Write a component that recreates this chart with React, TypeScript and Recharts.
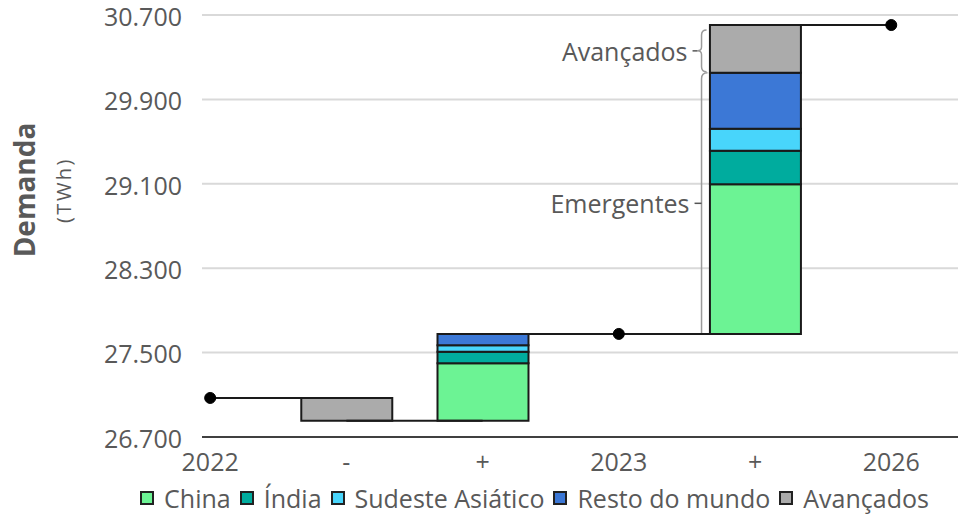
import React from 'react';
import {
  ComposedChart,
  Bar,
  Line,
  XAxis,
  YAxis,
  CartesianGrid,
  ReferenceLine,
  ReferenceArea,
  Legend,
} from 'recharts';

// ---- data ----
const categories = ['2022', '-', '+', '2023', '+', '2026'];
const baseValues: (number | null)[] = [null, 26855, 26855, null, 27677, null];
const china: (number | null)[] = [null, null, 543, null, 1418, null];
const india: (number | null)[] = [null, null, 111, null, 319, null];
const sudeste: (number | null)[] = [null, null, 60, null, 208, null];
const resto: (number | null)[] = [null, null, 108, null, 531, null];
const avancados: (number | null)[] = [null, 215, null, null, 452, null];
const levels: (number | null)[] = [27070, null, null, 27677, null, 30605];
const yTicks = [26700, 27500, 28300, 29100, 29900, 30700];

const seriesNames = ['China', 'Índia', 'Sudeste Asiático', 'Resto do mundo', 'Avançados'];
const seriesColors = ['#6CF394', '#00AC9E', '#48D5FB', '#3C78D6', '#ABABAB'];

const data = categories.map((c, i) => ({
  x: i,
  label: c,
  base: baseValues[i],
  china: china[i],
  india: india[i],
  sudeste: sudeste[i],
  resto: resto[i],
  avancados: avancados[i],
  level: levels[i],
}));

// connectors between levels
const connectors = [
  { from: 0, to: 1, y: levels[0] as number },
  { from: 1, to: 2, y: baseValues[1] as number },
  { from: 2, to: 4, y: levels[3] as number },
  { from: 4, to: 5, y: levels[5] as number },
];

const emergBottom = levels[3] as number;
const emergTop =
  emergBottom + (china[4] as number) + (india[4] as number) + (sudeste[4] as number) + (resto[4] as number);
const advTop = emergTop + (avancados[4] as number);

const TEXT = '#595959';
const FONT = '"Open Sans", sans-serif';
const BAR_SIZE = 91;

const fmt = (v: number) => {
  const s = Math.round(v).toString();
  return s.slice(0, s.length - 3) + '.' + s.slice(s.length - 3);
};

const EmergBracket = (p: any) => {
  const bx = p.x - BAR_SIZE / 2 - 8;
  const top = p.y;
  const bot = p.y + p.height;
  const mid = (top + bot) / 2;
  return (
    <g>
      <path
        d={`M ${bx + 6} ${top} Q ${bx} ${top} ${bx} ${top + 6} L ${bx} ${bot} L ${bx + 6} ${bot}`}
        fill="none"
        stroke="#9a9a9a"
        strokeWidth={1.5}
      />
      <line x1={bx - 7} y1={mid} x2={bx} y2={mid} stroke="#555" strokeWidth={1.5} />
      <text x={bx - 12} y={mid} textAnchor="end" dominantBaseline="central" fontSize={25} fill={TEXT} fontFamily={FONT}>
        Emergentes
      </text>
    </g>
  );
};

const AdvBracket = (p: any) => {
  const bx = p.x - BAR_SIZE / 2 - 8;
  const top = p.y + 5;
  const bot = p.y + p.height - 1;
  const mid = (top + bot) / 2;
  return (
    <g>
      <path
        d={`M ${bx + 5} ${top} Q ${bx} ${top} ${bx} ${top + 5} L ${bx} ${mid - 4} Q ${bx} ${mid} ${bx - 4} ${mid} Q ${bx} ${mid} ${bx} ${mid + 4} L ${bx} ${bot - 5} Q ${bx} ${bot} ${bx + 5} ${bot}`}
        fill="none"
        stroke="#9a9a9a"
        strokeWidth={1.5}
      />
      <line x1={bx - 9} y1={mid} x2={bx - 4} y2={mid} stroke="#555" strokeWidth={1.5} />
      <text x={bx - 14} y={mid} textAnchor="end" dominantBaseline="central" fontSize={25} fill={TEXT} fontFamily={FONT}>
        Avançados
      </text>
    </g>
  );
};

const LegendContent = () => (
  <div
    style={{
      display: 'flex',
      justifyContent: 'center',
      alignItems: 'center',
      paddingLeft: 120,
      height: 38,
      fontFamily: FONT,
      fontSize: 25,
      color: TEXT,
      whiteSpace: 'nowrap',
    }}
  >
    {seriesNames.map((n, i) => (
      <div key={n} style={{ display: 'flex', alignItems: 'center', marginRight: 9 }}>
        <span
          style={{
            display: 'inline-block',
            width: 10,
            height: 10,
            background: seriesColors[i],
            border: '2px solid #222',
            marginRight: 10,
          }}
        />
        <span>{n}</span>
      </div>
    ))}
  </div>
);

const YLabel = (props: any) => {
  const vb = props.viewBox || { x: 0, y: 0, width: 0, height: 0 };
  const cy = vb.y + vb.height / 2 - 36;
  return (
    <g>
      <text
        x={24}
        y={cy}
        transform={`rotate(-90, 24, ${cy})`}
        textAnchor="middle"
        dominantBaseline="central"
        fontSize={28}
        fontWeight="bold"
        fill={TEXT}
        fontFamily={FONT}
      >
        Demanda
      </text>
      <text
        x={63}
        y={cy}
        transform={`rotate(-90, 63, ${cy})`}
        textAnchor="middle"
        dominantBaseline="central"
        fontSize={20}
        fill={TEXT}
        fontFamily={FONT}
        letterSpacing={2.5}
      >
        (TWh)
      </text>
    </g>
  );
};

export default function App() {
  const barKeys = ['china', 'india', 'sudeste', 'resto', 'avancados'];
  return (
    <div style={{ width: 958, height: 517, fontFamily: FONT, background: '#fff' }}>
      <style>{`body{margin:0;}`}</style>
      <ComposedChart
        width={958}
        height={517}
        data={data}
        margin={{ top: 15, right: 0, bottom: 0, left: 0 }}
        barGap={0}
      >
        <CartesianGrid horizontal vertical={false} stroke="#d9d9d9" strokeWidth={2} />
        <XAxis
          dataKey="x"
          type="number"
          domain={[-0.06, 5.49]}
          ticks={[0, 1, 2, 3, 4, 5]}
          tickFormatter={(v: number) => categories[v]}
          allowDataOverflow
          height={42}
          tickSize={0}
          tickMargin={16}
          tick={{ fontSize: 25, fill: TEXT, fontFamily: FONT }}
          axisLine={{ stroke: '#404040', strokeWidth: 2 }}
        />
        <YAxis
          type="number"
          domain={[26700, 30700]}
          ticks={yTicks}
          allowDataOverflow
          width={202}
          tickSize={0}
          tickMargin={20}
          axisLine={false}
          tickLine={false}
          tickFormatter={fmt}
          tick={{ fontSize: 25, fill: TEXT, fontFamily: FONT, dy: 2 }}
          label={{ content: (p: any) => <YLabel {...p} /> }}
        />
        <Legend verticalAlign="bottom" height={38} content={() => <LegendContent />} wrapperStyle={{ left: 0, width: 958 }} />
        <Bar dataKey="base" stackId="w" fill="none" stroke="none" barSize={BAR_SIZE} isAnimationActive={false} legendType="none" />
        {barKeys.map((k, i) => (
          <Bar
            key={k}
            dataKey={k}
            name={seriesNames[i]}
            stackId="w"
            fill={seriesColors[i]}
            stroke="#1a1a1a"
            strokeWidth={2}
            barSize={BAR_SIZE}
            isAnimationActive={false}
          />
        ))}
        {connectors.map((c, i) => (
          <ReferenceLine
            key={i}
            segment={[
              { x: c.from, y: c.y },
              { x: c.to, y: c.y },
            ]}
            stroke="#1a1a1a"
            strokeWidth={2}
            ifOverflow="visible"
          />
        ))}
        <ReferenceArea x1={4} x2={4} y1={emergBottom} y2={emergTop} shape={(p: any) => <EmergBracket {...p} />} ifOverflow="visible" />
        <ReferenceArea x1={4} x2={4} y1={emergTop} y2={advTop} shape={(p: any) => <AdvBracket {...p} />} ifOverflow="visible" />
        <Line
          dataKey="level"
          stroke="none"
          dot={{ r: 5.5, fill: '#000', stroke: '#000', strokeWidth: 1 }}
          isAnimationActive={false}
          legendType="none"
        />
      </ComposedChart>
    </div>
  );
}
